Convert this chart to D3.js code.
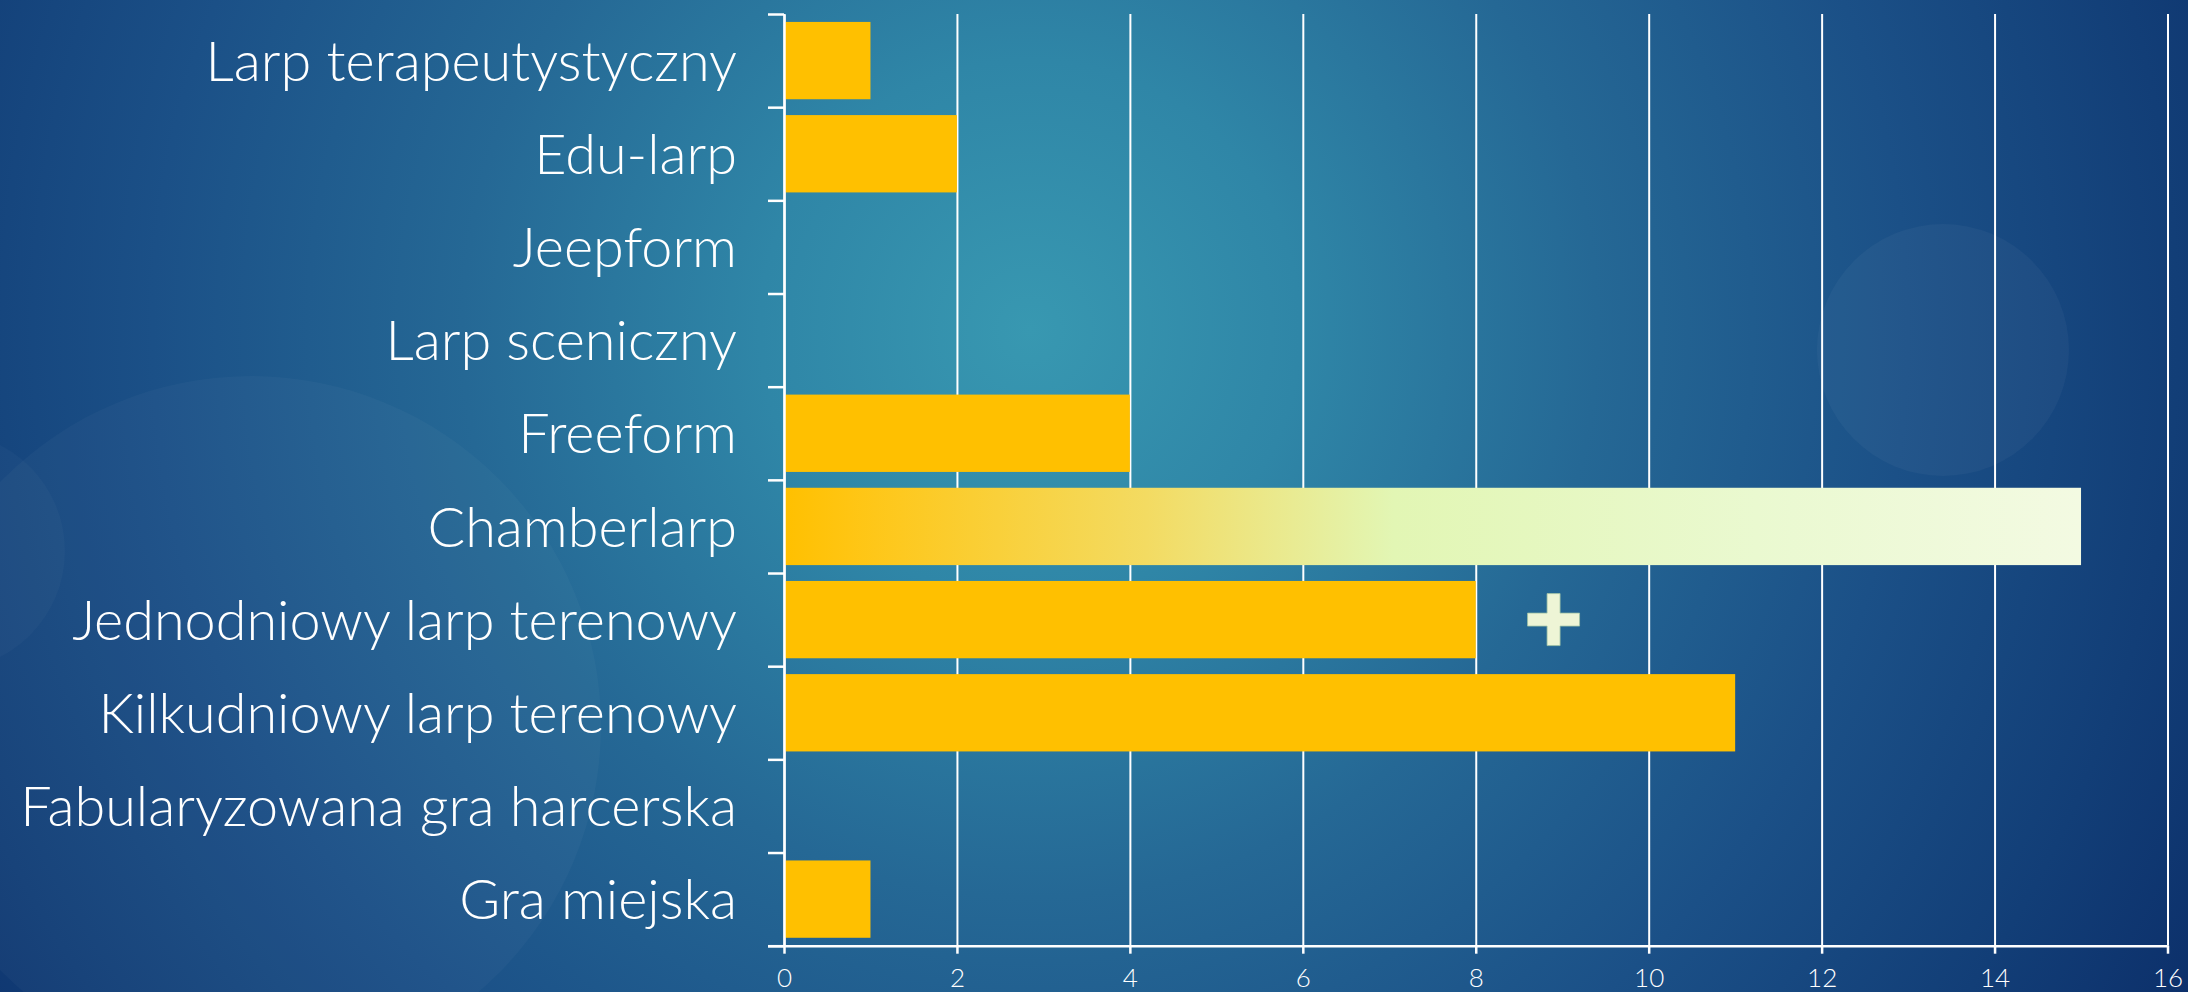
<!DOCTYPE html>
<html>
<head>
<meta charset="utf-8">
<script src="https://cdn.jsdelivr.net/npm/d3@7"></script>
<style>
  html, body { margin: 0; padding: 0; background: #1a4f86; }
  svg { display: block; }
</style>
</head>
<body>
<div id="chart"></div>
<script>
"use strict"

// categories, top to bottom
const categories = [
  "Larp terapeutystyczny",
  "Edu-larp",
  "Jeepform",
  "Larp sceniczny",
  "Freeform",
  "Chamberlarp",
  "Jednodniowy larp terenowy",
  "Kilkudniowy larp terenowy",
  "Fabularyzowana gra harcerska",
  "Gra miejska"
];
const counts = [1, 2, 0, 0, 4, 15, 8, 11, 0, 1];
const xTicks = [0, 2, 4, 6, 8, 10, 12, 14, 16];
const highlighted = "Chamberlarp";
const plusMark = {category: "Jednodniowy larp terenowy", value: 8.9};

const W = 2188, H = 992;
const margin = {top: 14, right: 20.5, bottom: 46.3, left: 784};
const font = "Lato, 'Open Sans', sans-serif";

const data = categories.map((c, i) => ({name: c, value: counts[i]}));

let svg = (
  d3.select("#chart")
    .append("svg")
    .attr("width", W)
    .attr("height", H));

let defs = svg.append("defs");

// background glow
let bg = (defs.append("radialGradient")
  .attr("id", "bg")
  .attr("gradientUnits", "userSpaceOnUse")
  .attr("cx", 1030).attr("cy", 330).attr("r", 1350));
[[0, "#3898b1"], [0.2, "#2f86a7"], [0.42, "#256895"], [0.65, "#1b5087"],
 [0.85, "#123e77"], [1, "#0c2f6a"]].forEach(([o, c]) =>
  bg.append("stop").attr("offset", o).attr("stop-color", c));

// gradient for the highlighted bar
let hl = (defs.append("linearGradient")
  .attr("id", "hl")
  .attr("x1", "0%").attr("x2", "100%").attr("y1", "0%").attr("y2", "0%"));
[[0, "#ffc000"], [0.05, "#ffc512"], [0.28, "#f3db62"], [0.47, "#e2f6b4"],
 [0.75, "#eaf9d0"], [1, "#f3fae2"]].forEach(([o, c]) =>
  hl.append("stop").attr("offset", o).attr("stop-color", c));

svg.append("rect").attr("width", W).attr("height", H).attr("fill", "url(#bg)");

// faint decorative circles
svg.append("circle").attr("cx", 251).attr("cy", 726).attr("r", 350)
  .attr("fill", "#ffffff").attr("fill-opacity", 0.028);
svg.append("circle").attr("cx", -54).attr("cy", 551).attr("r", 119)
  .attr("fill", "#ffffff").attr("fill-opacity", 0.025);
svg.append("circle").attr("cx", 1943).attr("cy", 350).attr("r", 126)
  .attr("fill", "#ffffff").attr("fill-opacity", 0.035);

const x = d3.scaleLinear().domain([0, 16]).range([margin.left, W - margin.right]);
const y = (d3.scaleBand()
  .domain(categories)
  .range([margin.top, H - margin.bottom])
  .paddingInner(0.17)
  .paddingOuter(0.085));
const yEdge = d3.scaleLinear().domain([0, categories.length]).range([margin.top, H - margin.bottom]);

// Draw vertical gridlines
(svg.append("g")
  .attr("transform", `translate(0,${H - margin.bottom})`)
  .call(d3.axisBottom(x).tickValues(xTicks).tickSize(-(H - margin.top - margin.bottom)).tickFormat(""))
  .call(g => g.select(".domain").remove())
  .call(g => g.selectAll("line").attr("stroke", "#ffffff").attr("stroke-width", 2)));

// Draw bars
(svg.append("g")
  .selectAll("rect")
    .data(data)
  .enter()
    .append("rect")
      .attr("x", x(0))
      .attr("y", d => y(d.name))
      .attr("width", d => x(d.value) - x(0))
      .attr("height", y.bandwidth())
      .attr("fill", d => d.name === highlighted ? "url(#hl)" : "#ffc000"));

// Draw plus sign
const ps = 52, pa = 13;
(svg.append("path")
  .attr("transform", `translate(${x(plusMark.value)},${y(plusMark.category) + y.bandwidth() / 2})`)
  .attr("d", `M${-pa/2},${-ps/2}H${pa/2}V${-pa/2}H${ps/2}V${pa/2}H${pa/2}V${ps/2}H${-pa/2}V${pa/2}H${-ps/2}V${-pa/2}H${-pa/2}Z`)
  .attr("fill", "#eef5d6")
  .attr("stroke", "#9fc3a4")
  .attr("stroke-width", 0.8));

// Draw category axis (ticks on band edges)
(svg.append("g")
  .attr("transform", `translate(${x(0)},0)`)
  .call(d3.axisLeft(yEdge).ticks(categories.length).tickSize(16).tickSizeOuter(0).tickFormat(""))
  .call(g => g.selectAll("line, path").attr("stroke", "#ffffff").attr("stroke-width", 2.5)));

// Draw value axis
(svg.append("g")
  .attr("transform", `translate(0,${H - margin.bottom})`)
  .call(d3.axisBottom(x).tickValues(xTicks).tickSize(8).tickSizeOuter(0).tickPadding(15))
  .call(g => g.select(".domain").attr("d", `M${x(0) - 16},0.5H${x(16)}`))
  .call(g => g.selectAll("line, path").attr("stroke", "#ffffff").attr("stroke-width", 2.5))
  .call(g => g.selectAll("text")
    .attr("fill", "#ffffff")
    .attr("font-family", font)
    .attr("font-weight", 300)
    .attr("font-size", 26)
    .attr("dy", "0.71em")));

// Draw category labels
let labels = (svg.append("g")
  .selectAll("text")
    .data(categories)
  .enter()
    .append("text")
      .attr("x", 737)
      .attr("y", d => y(d) + y.bandwidth() / 2)
      .attr("dy", "0.36em")
      .attr("text-anchor", "end")
      .attr("fill", "#ffffff")
      .attr("font-family", font)
      .attr("font-weight", 300)
      .attr("font-size", 54)
      .text(d => d));

// fit the longest label to the width it has in the slide
const widest = d3.max(labels.nodes(), n => n.getComputedTextLength());
labels.attr("font-size", 54 * 717 / widest);
</script>
</body>
</html>
